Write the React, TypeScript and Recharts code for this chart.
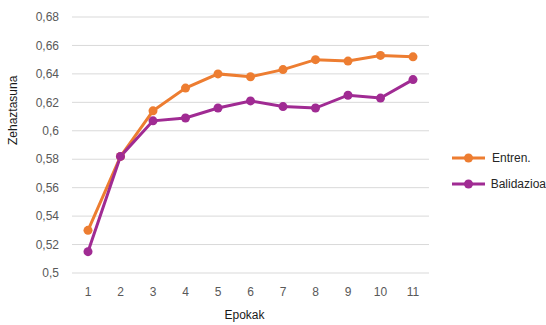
import React from 'react';
import { LineChart, Line, XAxis, YAxis, CartesianGrid, Legend, Label } from 'recharts';

// Epochs along the x axis
const epochs = ['1', '2', '3', '4', '5', '6', '7', '8', '9', '10', '11'];
// Accuracy per epoch
const trainAcc = [0.53, 0.582, 0.614, 0.630, 0.640, 0.638, 0.643, 0.650, 0.649, 0.653, 0.652];
const validAcc = [0.515, 0.582, 0.607, 0.609, 0.616, 0.621, 0.617, 0.616, 0.625, 0.623, 0.636];
// Y axis ticks
const yTicks = [0.5, 0.52, 0.54, 0.56, 0.58, 0.6, 0.62, 0.64, 0.66, 0.68];

const ORANGE = '#ED7D31';
const PURPLE = '#A02B93';
const FONT = '"Liberation Sans", Arial, sans-serif';

const data = epochs.map((e, i) => ({ epoch: e, train: trainAcc[i], valid: validAcc[i] }));

const fmt = (v: number) => String(Number(v.toFixed(2))).replace('.', ',');

const series = [
  { key: 'train', name: 'Entren.', color: ORANGE },
  { key: 'valid', name: 'Balidazioa', color: PURPLE },
];

const LegendBox = () => (
  <div style={{ fontFamily: FONT }}>
    {series.map((s) => (
      <div key={s.key} style={{ display: 'flex', alignItems: 'center', height: 26 }}>
        <svg width={34} height={12} style={{ display: 'block' }}>
          <line x1={0} y1={6} x2={33} y2={6} stroke={s.color} strokeWidth={3} />
          <circle cx={16.5} cy={6} r={4.5} fill={s.color} />
        </svg>
        <span style={{ fontSize: 12, color: '#262626', marginLeft: 6 }}>{s.name}</span>
      </div>
    ))}
  </div>
);

export default function App() {
  return (
    <div style={{ position: 'absolute', left: 0, top: 0, background: '#fff' }}>
      <LineChart
        width={546}
        height={325}
        data={data}
        margin={{ top: 17, right: 117, bottom: 0, left: 0 }}
        style={{ fontFamily: FONT }}
      >
        <CartesianGrid horizontal vertical={false} stroke="#D9D9D9" strokeWidth={1} />
        <XAxis
          dataKey="epoch"
          height={52}
          padding={{ left: 16, right: 16 }}
          axisLine={false}
          tickLine={false}
          tickSize={0}
          tickMargin={14}
          tick={{ fill: '#595959', fontSize: 12 }}
        >
          <Label value="Epokak" position="insideBottom" offset={6} dx={-6} fill="#1a1a1a" fontSize={12} />
        </XAxis>
        <YAxis
          width={72}
          domain={[0.5, 0.68]}
          ticks={yTicks}
          tickFormatter={fmt}
          axisLine={false}
          tickLine={false}
          tickSize={0}
          tickMargin={13}
          tick={{ fill: '#595959', fontSize: 12 }}
          allowDataOverflow
        >
          <Label value="Zehaztasuna" angle={-90} position="insideLeft" offset={13} fill="#1a1a1a" fontSize={12} />
        </YAxis>
        <Legend
          content={<LegendBox />}
          layout="vertical"
          align="center"
          verticalAlign="middle"
          wrapperStyle={{ position: 'absolute', left: 452, top: 145, width: 94 }}
        />
        {series.map((s) => (
          <Line
            key={s.key}
            type="linear"
            dataKey={s.key}
            name={s.name}
            stroke={s.color}
            strokeWidth={3}
            dot={{ r: 4.5, fill: s.color, stroke: 'none' }}
            activeDot={false}
            isAnimationActive={false}
          />
        ))}
      </LineChart>
    </div>
  );
}
